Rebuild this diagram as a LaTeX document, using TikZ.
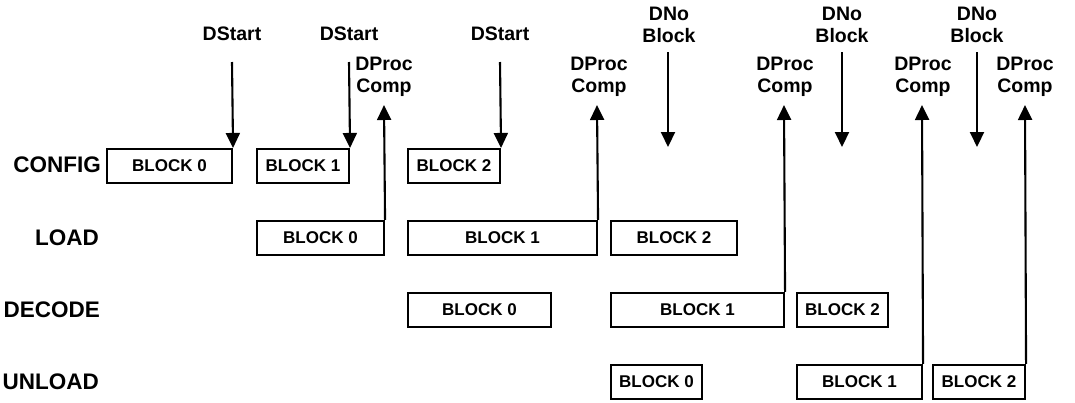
\documentclass[tikz,border=0pt]{standalone}
\usepackage{fontspec}
\setmainfont{Liberation Sans}
\usetikzlibrary{arrows.meta}
\begin{document}
\begin{tikzpicture}[x=1pt,y=-1pt,
  blk/.style={draw, line width=2.1pt, minimum height=34pt, inner sep=0pt,
    font=\fontsize{17}{19}\selectfont\bfseries},
  rowlbl/.style={anchor=east, inner sep=0pt, font=\fontsize{22.5}{24}\selectfont\bfseries},
  siglbl/.style={inner sep=0pt, align=center, font=\fontsize{19.5}{22}\selectfont\bfseries},
  sig/.style={line width=2.1pt, -{Triangle[width=14pt,length=15pt]}}]
\useasboundingbox (0,0) rectangle (1075,402);

% a block spanning x1..x2 centred on row y
\newcommand\blockbox[5]{%
  \node[blk, minimum width={#3-#2}] (#1) at ({(#2+#3)/2},#4) {#5};}

% row labels
\node[rowlbl] (rcfg) at (101,165) {CONFIG};
\node[rowlbl] (rld)  at (99,238) {LOAD};
\node[rowlbl] (rdec) at (100,310) {DECODE};
\node[rowlbl] (runl) at (99,382) {UNLOAD};

% CONFIG row
\blockbox{c0}{107}{232}{166}{BLOCK 0}
\blockbox{c1}{257}{349}{166}{BLOCK 1}
\blockbox{c2}{408}{500}{166}{BLOCK 2}
% LOAD row
\blockbox{l0}{257}{384}{238}{BLOCK 0}
\blockbox{l1}{408}{597}{238}{BLOCK 1}
\blockbox{l2}{611}{737}{238}{BLOCK 2}
% DECODE row
\blockbox{d0}{408}{551}{310}{BLOCK 0}
\blockbox{d1}{611}{784}{310}{BLOCK 1}
\blockbox{d2}{797}{888}{310}{BLOCK 2}
% UNLOAD row
\blockbox{u0}{611}{702}{382}{BLOCK 0}
\blockbox{u1}{797}{922}{382}{BLOCK 1}
\blockbox{u2}{933}{1025}{382}{BLOCK 2}

% DStart events
\node[siglbl] (ds0) at (232,34) {DStart};
\node[siglbl] (ds1) at (349,34) {DStart};
\node[siglbl] (ds2) at (500,34) {DStart};
\coordinate (ds0s) at (232,62);
\coordinate (ds1s) at (349,62);
\coordinate (ds2s) at (500,62);
\draw[sig] (ds0s) -- (c0.north east);
\draw[sig] (ds1s) -- (c1.north east);
\draw[sig] (ds2s) -- (c2.north east);

% DProc Comp events
\node[siglbl, anchor=north] (dp0) at (384,57) {DProc\\Comp};
\node[siglbl, anchor=north] (dp1) at (599,57) {DProc\\Comp};
\node[siglbl, anchor=north] (dp2) at (785,57) {DProc\\Comp};
\node[siglbl, anchor=north] (dp3) at (923,57) {DProc\\Comp};
\node[siglbl, anchor=north] (dp4) at (1025,57) {DProc\\Comp};
\coordinate (dp0e) at (384,105);
\coordinate (dp1e) at (597,105);
\coordinate (dp2e) at (784,105);
\coordinate (dp3e) at (922,105);
\coordinate (dp4e) at (1025,105);
\draw[sig] (l0.north east) -- (dp0e);
\draw[sig] (l1.north east) -- (dp1e);
\draw[sig] (d1.north east) -- (dp2e);
\draw[sig] (u1.north east) -- (dp3e);
\draw[sig] (u2.north east) -- (dp4e);

% DNo Block events
\node[siglbl, anchor=north] (dn0) at (669,7) {DNo\\Block};
\node[siglbl, anchor=north] (dn1) at (842,7) {DNo\\Block};
\node[siglbl, anchor=north] (dn2) at (977,7) {DNo\\Block};
\coordinate (dn0s) at (668,52);
\coordinate (dn1s) at (842,52);
\coordinate (dn2s) at (977,52);
\coordinate (dn0e) at (668,147);
\coordinate (dn1e) at (842,147);
\coordinate (dn2e) at (977,147);
\draw[sig] (dn0s) -- (dn0e);
\draw[sig] (dn1s) -- (dn1e);
\draw[sig] (dn2s) -- (dn2e);
\end{tikzpicture}
\end{document}
